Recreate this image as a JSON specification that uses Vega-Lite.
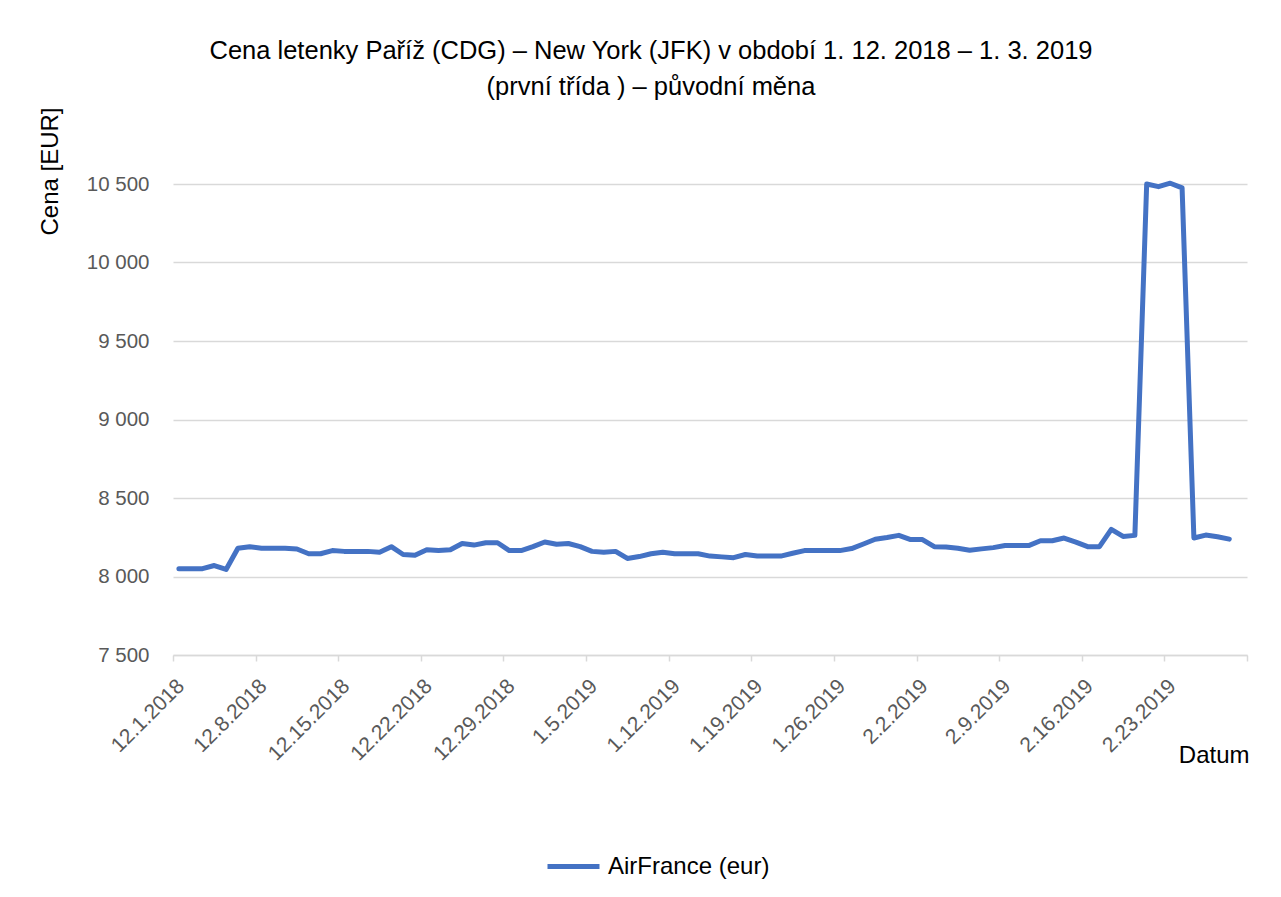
{
  "$schema": "https://vega.github.io/schema/vega-lite/v6.json",
  "width": 1074,
  "height": 471,
  "autosize": {"type": "none"},
  "padding": {"left": 173, "top": 184, "right": 34, "bottom": 242},
  "background": "white",
  "config": {
    "font": "Liberation Sans",
    "view": {"stroke": null}
  },
  "title": {
    "text": ["Cena letenky Paříž (CDG) – New York (JFK) v období 1. 12. 2018 – 1. 3. 2019", "(první třída ) –  původní měna"],
    "fontSize": 25.5,
    "fontWeight": "normal",
    "color": "#000000",
    "anchor": "middle",
    "frame": "group",
    "dx": -59,
    "offset": 6,
    "lineHeight": 36
  },
  "data": {
    "values": [
      {"date": "2018-12-01", "price": 8050},
      {"date": "2018-12-02", "price": 8050},
      {"date": "2018-12-03", "price": 8050},
      {"date": "2018-12-04", "price": 8070},
      {"date": "2018-12-05", "price": 8045},
      {"date": "2018-12-06", "price": 8180},
      {"date": "2018-12-07", "price": 8190},
      {"date": "2018-12-08", "price": 8180},
      {"date": "2018-12-09", "price": 8180},
      {"date": "2018-12-10", "price": 8180},
      {"date": "2018-12-11", "price": 8175},
      {"date": "2018-12-12", "price": 8145},
      {"date": "2018-12-13", "price": 8145},
      {"date": "2018-12-14", "price": 8165},
      {"date": "2018-12-15", "price": 8160},
      {"date": "2018-12-16", "price": 8160},
      {"date": "2018-12-17", "price": 8160},
      {"date": "2018-12-18", "price": 8155},
      {"date": "2018-12-19", "price": 8190},
      {"date": "2018-12-20", "price": 8140},
      {"date": "2018-12-21", "price": 8135},
      {"date": "2018-12-22", "price": 8170},
      {"date": "2018-12-23", "price": 8165},
      {"date": "2018-12-24", "price": 8170},
      {"date": "2018-12-25", "price": 8210},
      {"date": "2018-12-26", "price": 8200},
      {"date": "2018-12-27", "price": 8215},
      {"date": "2018-12-28", "price": 8215},
      {"date": "2018-12-29", "price": 8165},
      {"date": "2018-12-30", "price": 8165},
      {"date": "2018-12-31", "price": 8190},
      {"date": "2019-01-01", "price": 8220},
      {"date": "2019-01-02", "price": 8205},
      {"date": "2019-01-03", "price": 8210},
      {"date": "2019-01-04", "price": 8190},
      {"date": "2019-01-05", "price": 8160},
      {"date": "2019-01-06", "price": 8155},
      {"date": "2019-01-07", "price": 8160},
      {"date": "2019-01-08", "price": 8115},
      {"date": "2019-01-09", "price": 8127},
      {"date": "2019-01-10", "price": 8145},
      {"date": "2019-01-11", "price": 8155},
      {"date": "2019-01-12", "price": 8145},
      {"date": "2019-01-13", "price": 8145},
      {"date": "2019-01-14", "price": 8145},
      {"date": "2019-01-15", "price": 8130},
      {"date": "2019-01-16", "price": 8125},
      {"date": "2019-01-17", "price": 8120},
      {"date": "2019-01-18", "price": 8140},
      {"date": "2019-01-19", "price": 8130},
      {"date": "2019-01-20", "price": 8130},
      {"date": "2019-01-21", "price": 8130},
      {"date": "2019-01-22", "price": 8148},
      {"date": "2019-01-23", "price": 8165},
      {"date": "2019-01-24", "price": 8165},
      {"date": "2019-01-25", "price": 8165},
      {"date": "2019-01-26", "price": 8165},
      {"date": "2019-01-27", "price": 8178},
      {"date": "2019-01-28", "price": 8207},
      {"date": "2019-01-29", "price": 8237},
      {"date": "2019-01-30", "price": 8248},
      {"date": "2019-01-31", "price": 8262},
      {"date": "2019-02-01", "price": 8235},
      {"date": "2019-02-02", "price": 8235},
      {"date": "2019-02-03", "price": 8190},
      {"date": "2019-02-04", "price": 8188},
      {"date": "2019-02-05", "price": 8180},
      {"date": "2019-02-06", "price": 8167},
      {"date": "2019-02-07", "price": 8176},
      {"date": "2019-02-08", "price": 8184},
      {"date": "2019-02-09", "price": 8197},
      {"date": "2019-02-10", "price": 8197},
      {"date": "2019-02-11", "price": 8197},
      {"date": "2019-02-12", "price": 8228},
      {"date": "2019-02-13", "price": 8228},
      {"date": "2019-02-14", "price": 8245},
      {"date": "2019-02-15", "price": 8219},
      {"date": "2019-02-16", "price": 8190},
      {"date": "2019-02-17", "price": 8190},
      {"date": "2019-02-18", "price": 8300},
      {"date": "2019-02-19", "price": 8255},
      {"date": "2019-02-20", "price": 8262},
      {"date": "2019-02-21", "price": 10500},
      {"date": "2019-02-22", "price": 10483},
      {"date": "2019-02-23", "price": 10505},
      {"date": "2019-02-24", "price": 10475},
      {"date": "2019-02-25", "price": 8245},
      {"date": "2019-02-26", "price": 8264},
      {"date": "2019-02-27", "price": 8253},
      {"date": "2019-02-28", "price": 8238}
    ]
  },
  "mark": {"type": "line", "strokeWidth": 5, "strokeCap": "round", "strokeJoin": "round"},
  "encoding": {
    "x": {
      "field": "date",
      "type": "temporal",
      "timeUnit": "utcyearmonthdate",
      "bandPosition": 0.5,
      "scale": {
        "type": "utc",
        "domain": [
          {"year": 2018, "month": 12, "date": 1, "utc": true},
          {"year": 2019, "month": 3, "date": 2, "utc": true}
        ]
      },
      "axis": {
        "title": "Datum",
        "titleFontSize": 24,
        "titleFontWeight": "normal",
        "titleColor": "#000000",
        "titleAnchor": null,
        "titleAlign": "right",
        "titleBaseline": "middle",
        "titleX": 1076,
        "titleY": 100,
        "values": [
          {"year": 2018, "month": 12, "date": 1, "utc": true},
          {"year": 2018, "month": 12, "date": 8, "utc": true},
          {"year": 2018, "month": 12, "date": 15, "utc": true},
          {"year": 2018, "month": 12, "date": 22, "utc": true},
          {"year": 2018, "month": 12, "date": 29, "utc": true},
          {"year": 2019, "month": 1, "date": 5, "utc": true},
          {"year": 2019, "month": 1, "date": 12, "utc": true},
          {"year": 2019, "month": 1, "date": 19, "utc": true},
          {"year": 2019, "month": 1, "date": 26, "utc": true},
          {"year": 2019, "month": 2, "date": 2, "utc": true},
          {"year": 2019, "month": 2, "date": 9, "utc": true},
          {"year": 2019, "month": 2, "date": 16, "utc": true},
          {"year": 2019, "month": 2, "date": 23, "utc": true},
          {"year": 2019, "month": 3, "date": 2, "utc": true}
        ],
        "labelExpr": "datum.value >= utc(2019, 2, 2) ? '' : utcFormat(datum.value, '%-m.%-d.%Y')",
        "labelAngle": -45,
        "labelAlign": "right",
        "labelBaseline": "top",
        "labelFontSize": 21,
        "labelColor": "#595959",
        "labelPadding": 14,
        "labelOverlap": false,
        "labelBound": false,
        "labelFlush": false,
        "grid": false,
        "domainColor": "#d9d9d9",
        "domainWidth": 1.5,
        "tickColor": "#d9d9d9",
        "tickWidth": 1.5,
        "tickSize": 6
      }
    },
    "y": {
      "field": "price",
      "type": "quantitative",
      "scale": {"domain": [7500, 10500], "nice": false, "zero": false},
      "axis": {
        "title": "Cena [EUR]",
        "titleFontSize": 24,
        "titleFontWeight": "normal",
        "titleColor": "#000000",
        "titleAnchor": null,
        "titleAngle": -90,
        "titleAlign": "center",
        "titleBaseline": "middle",
        "titleX": -123,
        "titleY": -13,
        "values": [7500, 8000, 8500, 9000, 9500, 10000, 10500],
        "labelExpr": "replace(format(datum.value, ','), ',', ' ')",
        "labelFontSize": 20.5,
        "labelColor": "#595959",
        "labelPadding": 24,
        "ticks": false,
        "domain": false,
        "grid": true,
        "gridColor": "#d9d9d9",
        "gridWidth": 1.5
      }
    },
    "color": {
      "datum": "AirFrance (eur)",
      "type": "nominal",
      "scale": {"range": ["#4472C4"]},
      "legend": {
        "orient": "none",
        "legendX": 372,
        "legendY": 654,
        "title": null,
        "direction": "horizontal",
        "symbolType": "stroke",
        "symbolSize": 2704,
        "symbolStrokeWidth": 5,
        "labelFontSize": 24,
        "labelLimit": 400,
        "labelColor": "#000000",
        "labelOffset": 6
      }
    }
  }
}
